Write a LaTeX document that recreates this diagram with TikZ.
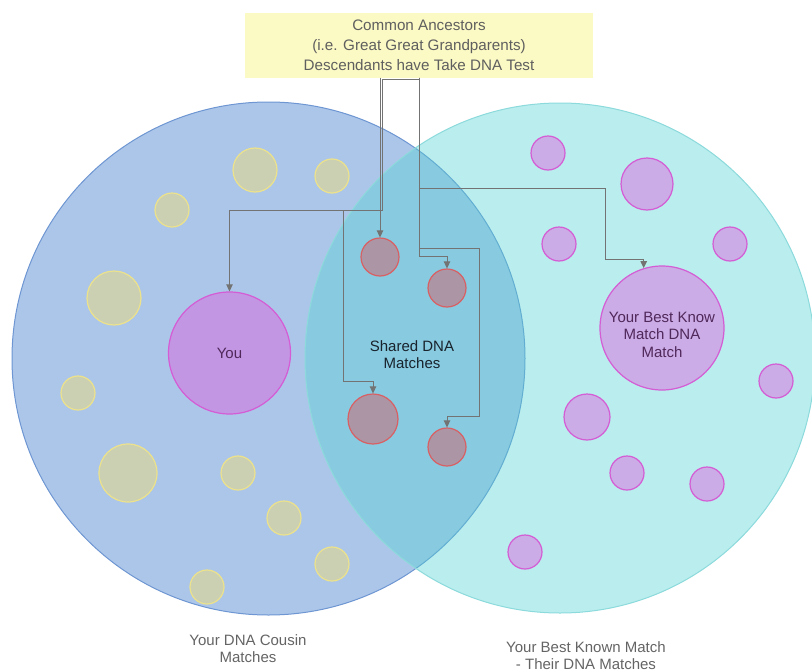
\documentclass[tikz,border=0pt]{standalone}
\usepackage{fontspec}
\setmainfont{Liberation Sans}
\usetikzlibrary{arrows.meta}
\definecolor{boxfill}{RGB}{251,249,196}
\definecolor{boxtxt}{RGB}{95,95,95}
\definecolor{leftfill}{RGB}{172,198,233}
\definecolor{leftbord}{RGB}{110,150,210}
\definecolor{rightfill}{RGB}{82,210,210}
\definecolor{rightbord}{RGB}{140,218,220}
\definecolor{yfill}{RGB}{204,208,178}
\definecolor{ybord}{RGB}{236,226,140}
\definecolor{mfill}{RGB}{203,172,230}
\definecolor{mbord}{RGB}{212,92,212}
\definecolor{youfill}{RGB}{195,150,228}
\definecolor{rfill}{RGB}{172,150,165}
\definecolor{rbord}{RGB}{216,96,100}
\definecolor{linecol}{RGB}{115,115,115}
\definecolor{purtxt}{RGB}{80,40,90}
\definecolor{darktxt}{RGB}{25,35,45}
\definecolor{greytxt}{RGB}{100,100,100}
\begin{document}
\begin{tikzpicture}[x=1pt,y=-1pt,
  dot/.style={circle, inner sep=0pt, line width=1.2pt, minimum size=2*#1},
  ybub/.style={dot=#1, draw=ybord, fill=yfill},
  mbub/.style={dot=#1, draw=mbord, fill=mfill},
  rbub/.style={dot=#1, draw=rbord, fill=rfill},
  conn/.style={draw=linecol, line width=0.9pt, -{Triangle[width=6.5pt,length=7pt]}},
  lbl/.style={align=center, font=\fontsize{15}{17.5}\selectfont},
  toplbl/.style={align=center, font=\fontsize{15.2}{20.2}\selectfont, text=boxtxt}]
\useasboundingbox (0,0) rectangle (812,672);
% big sets
\node[circle, inner sep=0pt, minimum size=513, fill=leftfill, draw=leftbord, line width=1pt] (leftset) at (268.5,358.5) {};
\node[circle, inner sep=0pt, minimum size=510, fill=rightfill, fill opacity=0.4, draw=rightbord, line width=1pt] (rightset) at (560,358) {};
% yellow bubbles
\node[ybub=22] (y1) at (255,170) {};
\node[ybub=17] (y2) at (332,176) {};
\node[ybub=17] (y3) at (172,210) {};
\node[ybub=27] (y4) at (114,298) {};
\node[ybub=17] (y5) at (78,393) {};
\node[ybub=29] (y6) at (128,473) {};
\node[ybub=17] (y7) at (238,473) {};
\node[ybub=17] (y8) at (284,518) {};
\node[ybub=17] (y9) at (332,564) {};
\node[ybub=17] (y10) at (207,587) {};
% you
\node[dot=61, draw=mbord, fill=youfill, lbl, text=purtxt] (you) at (229.5,353) {You};
% red shared
\node[rbub=19] (red1) at (380,257) {};
\node[rbub=19] (red2) at (447,288) {};
\node[rbub=25] (red3) at (373,419) {};
\node[rbub=19] (red4) at (447,447) {};
% magenta bubbles
\node[mbub=17] (m1) at (548,153) {};
\node[mbub=26] (m2) at (647,184) {};
\node[mbub=17] (m3) at (559,244) {};
\node[mbub=17] (m4) at (730,244) {};
\node[mbub=17] (m5) at (776,381) {};
\node[mbub=23] (m6) at (587,417) {};
\node[mbub=17] (m7) at (627,473) {};
\node[mbub=17] (m8) at (707,484) {};
\node[mbub=17] (m9) at (525,552) {};
\node[mbub=62] (best) at (662,328) {};
\node[lbl, text=purtxt] (besttxt) at (662,334.5) {Your Best Know\\Match DNA\\Match};
% top box
\node[fill=boxfill, minimum width=348, minimum height=65, inner sep=0pt, toplbl] (anc) at (419,45) {Common Ancestors\\(i.e. Great Great Grandparents)\\Descendants have Take DNA Test};
% labels
\node[lbl, text=darktxt] (shared) at (412,354.5) {Shared DNA\\Matches};
\node[lbl, text=greytxt] (lab1) at (248,648.5) {Your DNA Cousin\\Matches};
\node[lbl, text=greytxt] (lab2) at (586,655.5) {Your Best Known Match\\- Their DNA Matches};
% connectors
\coordinate (j1) at (343,210);
\coordinate (j2) at (419,248);
\draw[conn] (anc.south) -- ++(0,2) -| (382,210) -| (you.north);
\draw[conn, -] (j1) |- ([yshift=12pt]red3.north);
\draw[conn] ([yshift=12pt]red3.north) -- (red3.north);
\draw[conn] (red1.north |- anc.south) -- (red1.north);
\draw[conn] (anc.south) |- ([yshift=12pt]red2.north) -- (red2.north);
\draw[conn] (anc.south) |- (605,188) |- ([yshift=9pt]best.107) -- (best.107);
\draw[conn] (j2) -| (479,416) -| (red4.north);
\end{tikzpicture}
\end{document}
